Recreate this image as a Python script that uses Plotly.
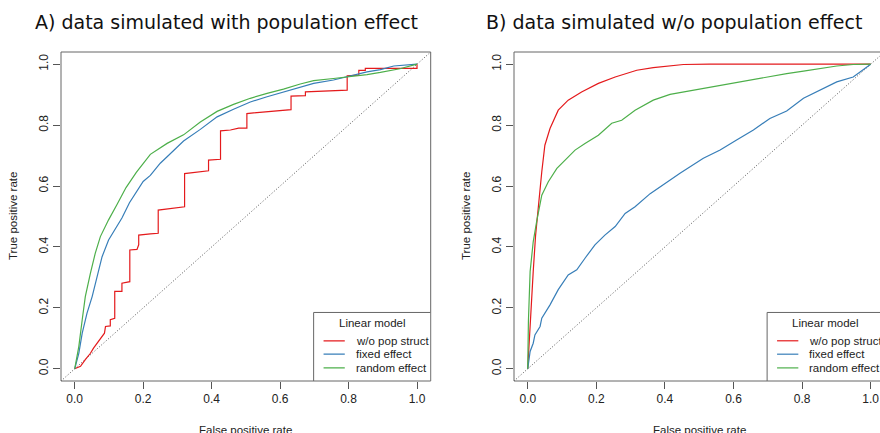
import plotly.graph_objects as go

# ---------------- data ----------------
tick_vals = [0.0, 0.2, 0.4, 0.6, 0.8, 1.0]
tick_text = ["0.0", "0.2", "0.4", "0.6", "0.8", "1.0"]
series_names = ["w/o pop struct", "fixed effect", "random effect"]
series_colors = ["#E41A1C", "#377EB8", "#4DAF4A"]
panel_titles = ["A) data simulated with population effect",
                "B) data simulated w/o population effect"]
legend_title = "Linear model"
x_title = "False positive rate"
y_title = "True positive rate"

# Panel A
A_red_fpr = [0, 0.017, 0.031, 0.046, 0.055, 0.065, 0.075, 0.087, 0.090, 0.104, 0.104, 0.117,
             0.117, 0.138, 0.138, 0.161, 0.161, 0.182, 0.187, 0.187, 0.221, 0.244, 0.244,
             0.289, 0.314, 0.321, 0.321, 0.391, 0.391, 0.426, 0.426, 0.455, 0.479, 0.503,
             0.503, 0.557, 0.632, 0.632, 0.674, 0.674, 0.796, 0.796, 0.830, 0.830, 0.849,
             0.849, 1.0, 1.0]
A_red_tpr = [0, 0.008, 0.030, 0.051, 0.068, 0.084, 0.097, 0.117, 0.139, 0.141, 0.161, 0.166,
             0.254, 0.254, 0.281, 0.286, 0.390, 0.392, 0.407, 0.439, 0.443, 0.445, 0.521,
             0.527, 0.532, 0.532, 0.641, 0.650, 0.685, 0.688, 0.781, 0.784, 0.790, 0.790,
             0.838, 0.844, 0.851, 0.895, 0.897, 0.909, 0.915, 0.962, 0.964, 0.980, 0.980,
             0.986, 0.986, 1.0]
A_blue_fpr = [0, 0.012, 0.022, 0.036, 0.051, 0.065, 0.080, 0.099, 0.119, 0.138, 0.160, 0.200,
              0.221, 0.250, 0.270, 0.318, 0.367, 0.416, 0.464, 0.513, 0.562, 0.610, 0.659,
              0.698, 0.756, 0.796, 0.854, 0.893, 0.932, 1.0]
A_blue_tpr = [0, 0.051, 0.117, 0.183, 0.237, 0.303, 0.368, 0.423, 0.461, 0.495, 0.545, 0.615,
              0.635, 0.675, 0.696, 0.748, 0.786, 0.827, 0.852, 0.876, 0.893, 0.909, 0.925,
              0.937, 0.948, 0.958, 0.975, 0.982, 0.994, 1.0]
A_green_fpr = [0, 0.012, 0.022, 0.031, 0.046, 0.060, 0.075, 0.099, 0.124, 0.150, 0.180, 0.221,
               0.270, 0.318, 0.367, 0.416, 0.464, 0.513, 0.562, 0.610, 0.659, 0.698, 0.756,
               0.796, 0.854, 0.893, 0.950, 1.0]
A_green_tpr = [0, 0.073, 0.161, 0.237, 0.314, 0.379, 0.434, 0.489, 0.540, 0.595, 0.645, 0.704,
               0.740, 0.768, 0.810, 0.845, 0.868, 0.888, 0.904, 0.918, 0.935, 0.946, 0.953,
               0.958, 0.966, 0.973, 0.985, 1.0]

# Panel B
B_red_fpr = [0, 0.007, 0.016, 0.023, 0.031, 0.041, 0.050, 0.065, 0.089, 0.118, 0.157, 0.206,
             0.255, 0.318, 0.366, 0.454, 0.530, 1.0]
B_red_tpr = [0, 0.155, 0.319, 0.439, 0.538, 0.647, 0.734, 0.789, 0.849, 0.882, 0.909, 0.937,
             0.958, 0.980, 0.989, 0.999, 1.0, 1.0]
B_blue_fpr = [0, 0.007, 0.016, 0.021, 0.036, 0.041, 0.065, 0.089, 0.118, 0.143, 0.167, 0.196,
              0.225, 0.255, 0.284, 0.313, 0.357, 0.405, 0.444, 0.512, 0.561, 0.609, 0.658,
              0.706, 0.755, 0.804, 0.852, 0.901, 0.949, 1.0]
B_blue_tpr = [0, 0.057, 0.084, 0.111, 0.139, 0.166, 0.210, 0.260, 0.308, 0.325, 0.363, 0.407,
              0.439, 0.467, 0.510, 0.532, 0.575, 0.612, 0.642, 0.691, 0.718, 0.751, 0.784,
              0.822, 0.846, 0.888, 0.915, 0.942, 0.958, 1.0]
B_green_fpr = [0, 0.002, 0.007, 0.016, 0.026, 0.041, 0.060, 0.085, 0.109, 0.138, 0.167, 0.206,
               0.245, 0.274, 0.313, 0.366, 0.415, 0.464, 0.561, 0.658, 0.755, 0.804, 0.852,
               0.901, 0.949, 1.0]
B_green_tpr = [0, 0.155, 0.319, 0.417, 0.483, 0.570, 0.614, 0.658, 0.685, 0.718, 0.740, 0.767,
               0.806, 0.816, 0.849, 0.882, 0.901, 0.911, 0.931, 0.951, 0.969, 0.977, 0.986,
               0.994, 0.999, 1.0]

diag = [-0.04, 1.04]

# ---------------- figure ----------------
W, H = 880, 433
fig = go.Figure()

panels = [
    ("x", "y", [(A_red_fpr, A_red_tpr), (A_blue_fpr, A_blue_tpr), (A_green_fpr, A_green_tpr)]),
    ("x2", "y2", [(B_red_fpr, B_red_tpr), (B_blue_fpr, B_blue_tpr), (B_green_fpr, B_green_tpr)]),
]

for xa, ya, curves in panels:
    fig.add_trace(go.Scatter(x=diag, y=diag, mode="lines", xaxis=xa, yaxis=ya,
                             line=dict(color="#555555", width=1, dash="1px,2px"),
                             showlegend=False, hoverinfo="skip"))
    for (fx, ty), name, col in zip(curves, series_names, series_colors):
        fig.add_trace(go.Scatter(x=fx, y=ty, mode="lines", name=name, xaxis=xa, yaxis=ya,
                                 line=dict(color=col, width=1.2), showlegend=False))

tickfont = dict(family="Liberation Sans, Arial, sans-serif", size=12, color="#222222")
ax_common = dict(showgrid=False, zeroline=False, showline=False, ticks="outside",
                 ticklen=7, tickcolor="#555555", tickwidth=1, tickvals=tick_vals,
                 ticktext=tick_text, tickfont=tickfont)

yd = [(H - 381) / H, (H - 52) / H]
fig.update_layout(
    width=W, height=H, margin=dict(l=0, r=0, t=0, b=0),
    paper_bgcolor="white", plot_bgcolor="white",
    xaxis=dict(domain=[61 / W, 430.7 / W], range=[-0.04, 1.04], anchor="y", **ax_common),
    yaxis=dict(domain=yd, range=[-0.04, 1.04], anchor="x", tickangle=-90, **ax_common),
    xaxis2=dict(domain=[514 / W, 1.0], range=[-0.04, (W - 527.7) / 343.0], anchor="y2", **ax_common),
    yaxis2=dict(domain=yd, range=[-0.04, 1.04], anchor="x2", tickangle=-90, **ax_common),
    showlegend=False,
)

box_col = "#666666"
shapes = []
# panel A box
shapes.append(dict(type="rect", xref="x domain", yref="y domain", x0=0, x1=1, y0=0, y1=1,
                   line=dict(color=box_col, width=1)))
# panel B box (right side falls outside the picture)
for (x0, y0, x1, y1) in [(0, 0, 0, 1), (0, 1, 1, 1), (0, 0, 1, 0)]:
    shapes.append(dict(type="line", xref="x2 domain", yref="y2 domain", x0=x0, x1=x1,
                       y0=y0, y1=y1, line=dict(color=box_col, width=1)))

annotations = []
legfont = dict(family="Liberation Sans, Arial, sans-serif", size=11.5, color="#222222")
row_y = [0.092, 0.048, 0.003]
for xa, ya in [("x", "y"), ("x2", "y2")]:
    # legend frame
    shapes.append(dict(type="rect", xref=xa, yref=ya, x0=0.698, x1=1.04, y0=-0.04, y1=0.185,
                       line=dict(color=box_col, width=1), fillcolor="white", layer="above"))
    annotations.append(dict(xref=xa, yref=ya, x=0.868, y=0.152, text=legend_title,
                            showarrow=False, xanchor="center", yanchor="middle", font=legfont))
    for ry, name, col in zip(row_y, series_names, series_colors):
        shapes.append(dict(type="line", xref=xa, yref=ya, x0=0.727, x1=0.789, y0=ry, y1=ry,
                           line=dict(color=col, width=1.2), layer="above"))
        annotations.append(dict(xref=xa, yref=ya, x=0.815, y=ry, text=name, showarrow=False,
                                xanchor="left", yanchor="middle", font=legfont))
    # axis titles
    annotations.append(dict(xref=xa + " domain" if False else xa, yref="paper", x=0.5,
                            y=(H - 429.5) / H, text=x_title, showarrow=False,
                            xanchor="center", yanchor="middle", font=legfont))

for xpix in [13, 466]:
    annotations.append(dict(xref="paper", yref="paper", x=xpix / W, y=(H - 216) / H,
                            text=y_title, textangle=-90, showarrow=False,
                            xanchor="center", yanchor="middle", font=legfont))

titlefont = dict(family="DejaVu Sans, Verdana, sans-serif", size=19, color="#111111")
for xpix, t in zip([33, 484.3], panel_titles):
    annotations.append(dict(xref="paper", yref="paper", x=xpix / W, y=(H - 22) / H, text=t,
                            showarrow=False, xanchor="left", yanchor="middle", font=titlefont))

fig.update_layout(shapes=shapes, annotations=annotations)
fig.write_html("out.html")
